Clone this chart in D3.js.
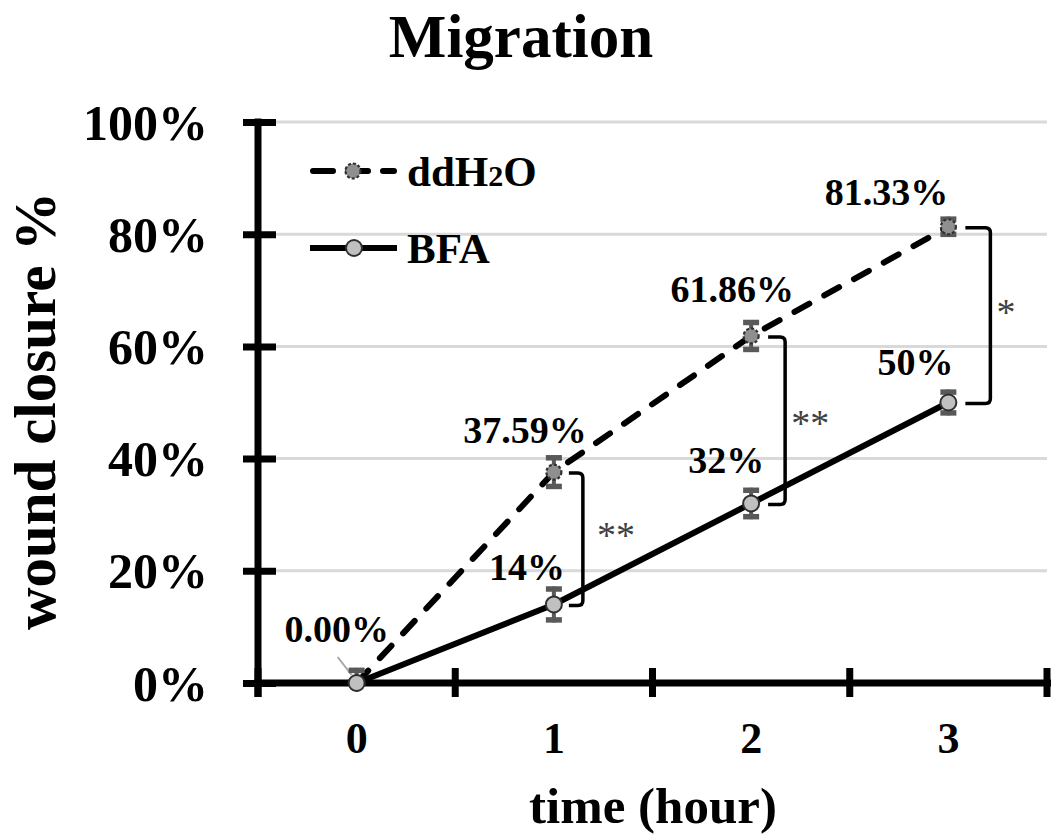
<!DOCTYPE html>
<html>
<head>
<meta charset="utf-8">
<script src="https://cdn.jsdelivr.net/npm/d3@7"></script>
<style>
  html, body { margin: 0; padding: 0; background: #fff; }
  svg { display: block; }
  text { font-family: "Liberation Serif", "Times New Roman", serif; }
</style>
</head>
<body>
<script>
// ---------- data ----------
const categories = ["0", "1", "2", "3"];
const ddH2O = [0, 37.59, 61.86, 81.33];
const ddH2OErr = [2.7, 3.0, 2.85, 1.8];
const BFA = [0, 14, 32, 50];
const BFAErr = [0, 3.2, 2.8, 2.3];
const ddLabels = ["0.00%", "37.59%", "61.86%", "81.33%"];
const bfaLabels = [null, "14%", "32%", "50%"];
const yTicks = [0, 20, 40, 60, 80, 100];
const sigCategories = ["1", "2", "3"];
const sigLabels = ["**", "**", "*"];
const seriesNames = ["ddH", "BFA"];

// ---------- layout ----------
const W = 1051, H = 838;
const svg = d3.select("body").append("svg").attr("width", W).attr("height", H);

const x = d3.scaleBand().domain(categories).range([258, 1047]).paddingInner(0).paddingOuter(0);
const cx = c => x(c) + x.bandwidth() / 2;
const y = d3.scaleLinear().domain([0, 100]).range([683, 122]);

// label offsets (px) relative to points
const ddLabelOff = [[-20, -41], [-29, -29], [-19, -34], [-62, -22]];
const bfaLabelOff = [null, [-27, -24], [-25, -30], [-33, -28]];
// bracket geometry (offsets from category centre)
const bracketX = [[15, 29], [17, 34], [17, 42]];
const starOff = [[43, 9], [40, 15], [48, 9]];

// ---------- gridlines ----------
svg.append("g").selectAll("line").data(yTicks.filter(t => t > 0)).join("line")
  .attr("x1", 258).attr("x2", 1047)
  .attr("y1", d => y(d)).attr("y2", d => y(d))
  .attr("stroke", "#d9d9d9").attr("stroke-width", 3);

// ---------- title ----------
svg.append("text").attr("x", 521).attr("y", 57).attr("text-anchor", "middle")
  .attr("font-size", 61).attr("font-weight", "bold").text("Migration");

// ---------- axes ----------
const yAxis = d3.axisLeft(y).tickValues(yTicks).tickFormat(d => d + "%").tickSize(0).tickPadding(0);
const gy = svg.append("g").attr("transform", "translate(258,0)").call(yAxis);
gy.select(".domain").remove();
gy.selectAll(".tick text")
  .attr("x", -50).attr("dy", null).attr("y", 17)
  .attr("text-anchor", "end").attr("font-size", 50).attr("font-weight", "bold")
  .attr("fill", "#000").style("font-family", "'Liberation Serif', serif");
gy.selectAll(".tick").append("line").attr("x1", -15).attr("x2", 18)
  .attr("stroke", "#000").attr("stroke-width", 7);
gy.append("line").attr("x1", 0).attr("x2", 0).attr("y1", y(100) - 3.5).attr("y2", 697)
  .attr("stroke", "#000").attr("stroke-width", 7);

const xAxis = d3.axisBottom(x).tickSize(0).tickPadding(0);
const gx = svg.append("g").attr("transform", "translate(0,683)").call(xAxis);
gx.select(".domain").remove();
gx.selectAll(".tick text").attr("y", 70).attr("dy", null)
  .attr("font-size", 44).attr("font-weight", "bold").attr("fill", "#000")
  .style("font-family", "'Liberation Serif', serif");
const boundaries = categories.map(c => x(c)).concat([x(categories[categories.length - 1]) + x.bandwidth()]);
gx.selectAll(".bnd").data(boundaries).join("line").attr("class", "bnd")
  .attr("x1", d => d).attr("x2", d => d).attr("y1", -15).attr("y2", 14)
  .attr("stroke", "#000").attr("stroke-width", 7);
gx.append("line").attr("x1", 254).attr("x2", 1051).attr("y1", 0).attr("y2", 0)
  .attr("stroke", "#000").attr("stroke-width", 7);

// axis titles
svg.append("text").attr("transform", "translate(55,411) rotate(-90)").attr("text-anchor", "middle")
  .attr("font-size", 59).attr("font-weight", "bold").text("wound closure %");
svg.append("text").attr("x", 653).attr("y", 823).attr("text-anchor", "middle")
  .attr("font-size", 51).attr("font-weight", "bold").text("time (hour)");

// ---------- lines ----------
const line = d3.line().x((d, i) => cx(categories[i])).y(d => y(d));
svg.append("path").datum(ddH2O).attr("d", line).attr("fill", "none")
  .attr("stroke", "#000").attr("stroke-width", 6).attr("stroke-dasharray", "17,17")
  .attr("stroke-linecap", "round");
svg.append("path").datum(BFA).attr("d", line).attr("fill", "none")
  .attr("stroke", "#000").attr("stroke-width", 6).attr("stroke-linejoin", "round");

// ---------- leader line for 0.00% ----------
svg.append("line").attr("x1", cx("0") - 19).attr("y1", y(0) - 26)
  .attr("x2", cx("0") - 5).attr("y2", y(0) - 8)
  .attr("stroke", "#a6a6a6").attr("stroke-width", 2);

// ---------- error bars ----------
function errorBars(vals, errs) {
  const g = svg.append("g");
  vals.forEach((v, i) => {
    if (!errs[i]) return;
    const xc = cx(categories[i]);
    const top = y(v + errs[i]);
    const bot = Math.min(y(Math.max(0, v - errs[i])), y(0));
    g.append("line").attr("x1", xc).attr("x2", xc).attr("y1", top).attr("y2", bot)
      .attr("stroke", "#595959").attr("stroke-width", 4);
    g.append("line").attr("x1", xc - 8).attr("x2", xc + 8).attr("y1", top + 2.5).attr("y2", top + 2.5)
      .attr("stroke", "#595959").attr("stroke-width", 5.5);
    if (v - errs[i] >= 0)
      g.append("line").attr("x1", xc - 8).attr("x2", xc + 8).attr("y1", bot - 2.5).attr("y2", bot - 2.5)
        .attr("stroke", "#595959").attr("stroke-width", 5.5);
  });
}
errorBars(ddH2O, ddH2OErr);
errorBars(BFA, BFAErr);

// ---------- markers ----------
svg.append("g").selectAll("circle").data(ddH2O).join("circle")
  .attr("cx", (d, i) => cx(categories[i])).attr("cy", d => y(d)).attr("r", 7.5)
  .attr("fill", "#8f8f8f").attr("stroke", "#303030").attr("stroke-width", 2.2)
  .attr("stroke-dasharray", "3,2");
svg.append("g").selectAll("circle").data(BFA).join("circle")
  .attr("cx", (d, i) => cx(categories[i])).attr("cy", d => y(d)).attr("r", 8)
  .attr("fill", "#c0c0c0").attr("stroke", "#303030").attr("stroke-width", 2);

// ---------- data labels ----------
svg.append("g").selectAll("text").data(ddH2O).join("text")
  .attr("x", (d, i) => cx(categories[i]) + ddLabelOff[i][0])
  .attr("y", (d, i) => y(d) + ddLabelOff[i][1])
  .attr("text-anchor", "middle").attr("font-size", 38).attr("font-weight", "bold")
  .text((d, i) => ddLabels[i]);
svg.append("g").selectAll("text").data(BFA.map((v, i) => ({v, i})).filter(d => bfaLabels[d.i])).join("text")
  .attr("x", d => cx(categories[d.i]) + bfaLabelOff[d.i][0])
  .attr("y", d => y(d.v) + bfaLabelOff[d.i][1])
  .attr("text-anchor", "middle").attr("font-size", 38).attr("font-weight", "bold")
  .text(d => bfaLabels[d.i]);

// ---------- significance brackets ----------
sigCategories.forEach((c, k) => {
  const i = categories.indexOf(c);
  const xc = cx(c);
  const x0 = xc + bracketX[k][0], x1 = xc + bracketX[k][1];
  const yt = y(ddH2O[i]) + 1, yb = y(BFA[i]) + 1;
  const r = 5;
  svg.append("path")
    .attr("d", `M${x0},${yt} H${x1 - r} Q${x1},${yt} ${x1},${yt + r} V${yb - r} Q${x1},${yb} ${x1 - r},${yb} H${x0}`)
    .attr("fill", "none").attr("stroke", "#000").attr("stroke-width", 3.5);
  svg.append("text").attr("x", xc + starOff[k][0]).attr("y", (yt + yb) / 2 + starOff[k][1])
    .attr("font-size", 38).attr("fill", "#404040").attr("letter-spacing", 0)
    .text(sigLabels[k]);
});

// ---------- legend ----------
const lg = svg.append("g");
lg.append("line").attr("x1", 313).attr("x2", 394).attr("y1", 171).attr("y2", 171)
  .attr("stroke", "#000").attr("stroke-width", 6).attr("stroke-dasharray", "20,15")
  .attr("stroke-linecap", "round");
lg.append("circle").attr("cx", 353).attr("cy", 171).attr("r", 7.5)
  .attr("fill", "#8f8f8f").attr("stroke", "#303030").attr("stroke-width", 2.2).attr("stroke-dasharray", "3,2");
const t1 = lg.append("text").attr("x", 407).attr("y", 186).attr("font-size", 43).attr("font-weight", "bold");
t1.append("tspan").text(seriesNames[0]);
t1.append("tspan").attr("font-size", 30).text("2");
t1.append("tspan").text("O");
lg.append("line").attr("x1", 310).attr("x2", 397).attr("y1", 248).attr("y2", 248)
  .attr("stroke", "#000").attr("stroke-width", 6);
lg.append("circle").attr("cx", 354).attr("cy", 248).attr("r", 8)
  .attr("fill", "#c0c0c0").attr("stroke", "#303030").attr("stroke-width", 2);
lg.append("text").attr("x", 407).attr("y", 263).attr("font-size", 43).attr("font-weight", "bold")
  .text(seriesNames[1]);
</script>
</body>
</html>
